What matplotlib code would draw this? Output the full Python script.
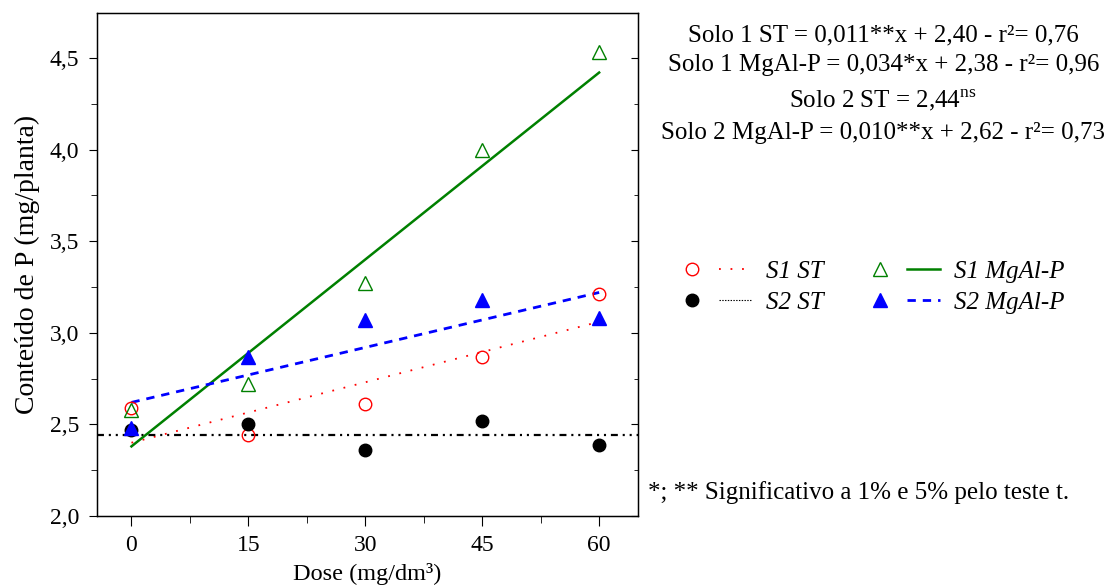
import numpy as np
import matplotlib
matplotlib.use('Agg')
import matplotlib.pyplot as plt
from matplotlib.lines import Line2D
from matplotlib.legend_handler import HandlerTuple
from matplotlib.ticker import MultipleLocator

plt.rcParams['font.family'] = 'Liberation Serif'
plt.rcParams['mathtext.fontset'] = 'custom'
plt.rcParams['mathtext.rm'] = 'Liberation Serif'
plt.rcParams['lines.scale_dashes'] = False

# dose levels and P content per treatment
dose = [0, 15, 30, 45, 60]
s1_st = [2.59, 2.44, 2.61, 2.87, 3.21]
s2_st = [2.47, 2.50, 2.36, 2.52, 2.39]
s1_mgal = [2.58, 2.72, 3.27, 4.00, 4.53]
s2_mgal = [2.48, 2.87, 3.07, 3.18, 3.08]

# regression coefficients (slope, intercept)
fit_s1_st = (0.011, 2.40)
fit_s1_mgal = (0.034, 2.38)
fit_s2_mgal = (0.010, 2.62)
mean_s2_st = 2.44

equations = [
    'Solo 1 ST = 0,011**x + 2,40 - r²= 0,76',
    'Solo 1 MgAl-P = 0,034*x + 2,38 - r²= 0,96',
    'Solo 2 ST = 2,44$^{\\mathrm{ns}}$',
    'Solo 2 MgAl-P = 0,010**x + 2,62 - r²= 0,73',
]

fig = plt.figure(figsize=(11.04, 5.88), dpi=100)
ax = fig.add_axes([0.088, 0.1224, 0.490, 0.8555])

xf = np.array([0, 60])
ax.plot(xf, fit_s1_st[0] * xf + fit_s1_st[1], color='red', lw=1.3,
        dashes=(1.3, 7.0))
ax.axhline(mean_s2_st, color='black', lw=1.6,
           dashes=(5, 3.5, 1.5, 3.5, 1.5, 3.5))
ax.plot(xf, fit_s1_mgal[0] * xf + fit_s1_mgal[1], color='green', lw=1.8)
ax.plot(xf, fit_s2_mgal[0] * xf + fit_s2_mgal[1], color='blue', lw=2.0,
        dashes=(6, 5))

ax.plot(dose, s1_st, 'o', ms=9, mfc='none', mec='red', mew=1.0)
ax.plot(dose, s2_st, 'o', ms=9, color='black')
ax.plot(dose, s2_mgal, '^', ms=10, color='blue')
ax.plot(dose, s1_mgal, '^', ms=10, mfc='none', mec='green', mew=1.0)

ax.set_xlim(-4.4, 65)
ax.set_ylim(2.0, 4.745)
ax.set_xticks(dose)
ax.xaxis.set_minor_locator(MultipleLocator(7.5))
ax.yaxis.set_major_locator(MultipleLocator(0.5))
ax.yaxis.set_minor_locator(MultipleLocator(0.25))
ax.yaxis.set_major_formatter(lambda v, p: f'{v:.1f}'.replace('.', ','))
ax.tick_params(axis='both', which='both', direction='out', labelsize=17)
ax.tick_params(axis='x', which='major', length=7, pad=7)
ax.tick_params(axis='x', which='minor', length=5)
ax.tick_params(axis='y', which='major', length=6, pad=7)
ax.tick_params(axis='y', which='minor', length=4)
for s in ax.spines.values():
    s.set_linewidth(1.0)

# inward ticks on the right spine
axr = ax.twinx()
axr.set_ylim(ax.get_ylim())
axr.yaxis.set_major_locator(MultipleLocator(0.5))
axr.yaxis.set_minor_locator(MultipleLocator(0.25))
axr.tick_params(axis='y', which='both', direction='in', labelright=False)
axr.tick_params(axis='y', which='major', length=5)
axr.tick_params(axis='y', which='minor', length=3)

ax.set_xlabel('Dose (mg/dm³)', fontsize=17.5, labelpad=5)
ax.set_ylabel('Conteúdo de P (mg/planta)', fontsize=20, labelpad=7)

ys = [0.940, 0.889, 0.830, 0.774]
for t, y in zip(equations, ys):
    fig.text(0.800, y, t, ha='center', va='center', fontsize=18)

h_s1st = (Line2D([], [], ls='none', marker='o', ms=9, mfc='none', mec='red'),
          Line2D([], [], color='red', lw=1.3, dashes=(1.3, 7.0)))
h_s2st = (Line2D([], [], ls='none', marker='o', ms=9, color='black'),
          Line2D([], [], color='black', lw=0.8, dashes=(1, 1)))
h_s1mg = (Line2D([], [], ls='none', marker='^', ms=10, mfc='none', mec='green'),
          Line2D([], [], color='green', lw=1.8))
h_s2mg = (Line2D([], [], ls='none', marker='^', ms=10, color='blue'),
          Line2D([], [], color='blue', lw=2.0, dashes=(6, 5)))

leg = fig.legend([h_s1st, h_s2st, h_s1mg, h_s2mg],
                 ['S1 ST', 'S2 ST', 'S1 MgAl-P', 'S2 MgAl-P'],
                 handler_map={tuple: HandlerTuple(ndivide=None, pad=0.4)},
                 ncol=2, loc='center', bbox_to_anchor=(0.788, 0.512),
                 frameon=False, handlelength=3.04, handletextpad=0.56,
                 columnspacing=1.6, labelspacing=0.35,
                 prop={'family': 'Liberation Serif', 'style': 'italic', 'size': 18})

fig.text(0.587, 0.162, '*; ** Significativo a 1% e 5% pelo teste t.',
         ha='left', va='center', fontsize=18)

fig.savefig('out.png', dpi=100)
